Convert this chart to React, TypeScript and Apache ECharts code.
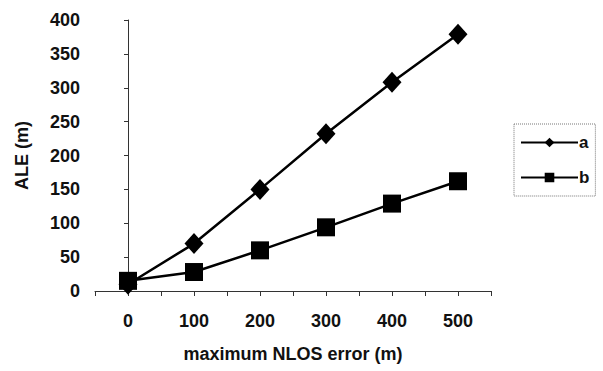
import React, { useEffect, useRef } from "react";
import * as echarts from "echarts";

const xValues = [0, 100, 200, 300, 400, 500];
const seriesA = [10, 70, 150, 232, 308, 379];
const seriesB = [15, 28, 60, 94, 129, 162];
const seriesNames = ["a", "b"];

export default function App() {
  const ref = useRef<HTMLDivElement>(null);
  useEffect(() => {
    if (!ref.current) return;
    const chart = echarts.init(ref.current, null, { renderer: "svg" });
    const font = "'Liberation Sans', Arial, sans-serif";
    chart.setOption({
      animation: false,
      backgroundColor: "#fff",
      grid: { left: 95, right: 112, top: 20, bottom: 80, containLabel: false },
      xAxis: {
        type: "value",
        min: -50,
        max: 550,
        interval: 50,
        name: "maximum NLOS error (m)",
        nameLocation: "middle",
        nameGap: 54,
        nameTextStyle: { fontFamily: font, fontWeight: "bold", fontSize: 18, color: "#111" },
        axisLine: { lineStyle: { color: "#333", width: 1 } },
        axisTick: { show: true, length: 5, inside: false, lineStyle: { color: "#333" } },
        splitLine: { show: false },
        axisLabel: {
          margin: 21,
          fontFamily: font,
          fontWeight: "bold",
          fontSize: 18,
          color: "#111",
          showMinLabel: true,
          showMaxLabel: true,
          formatter: (v: number) => (v >= 0 && v <= 500 && v % 100 === 0 ? String(v) : ""),
        },
      },
      yAxis: {
        type: "value",
        min: 0,
        max: 400,
        interval: 50,
        name: "ALE (m)",
        nameLocation: "middle",
        nameGap: 64,
        nameRotate: 90,
        nameTextStyle: { fontFamily: font, fontWeight: "bold", fontSize: 18, color: "#111" },
        axisLine: { show: true, lineStyle: { color: "#333", width: 1 } },
        axisTick: { show: true, length: 4, lineStyle: { color: "#333" } },
        splitLine: { show: false },
        axisLabel: { margin: 15, fontFamily: font, fontWeight: "bold", fontSize: 18, color: "#111" },
      },
      legend: {
        orient: "vertical",
        left: 514,
        top: 124,
        width: 86,
        padding: [10, 6, 10, 6],
        itemGap: 18,
        itemWidth: 57,
        itemHeight: 12,
        borderColor: "#777",
        borderWidth: 1,
        borderType: "dotted",
        textStyle: { fontFamily: font, fontWeight: "bold", fontSize: 17, color: "#111", padding: [0, 0, 0, -4] },
        data: seriesNames,
      },
      series: [
        {
          name: seriesNames[0],
          type: "line",
          data: xValues.map((x, i) => [x, seriesA[i]]),
          symbol: "diamond",
          symbolSize: [19, 21],
          itemStyle: { color: "#000" },
          lineStyle: { color: "#000", width: 2.5 },
        },
        {
          name: seriesNames[1],
          type: "line",
          data: xValues.map((x, i) => [x, seriesB[i]]),
          symbol: "rect",
          symbolSize: 18,
          itemStyle: { color: "#000" },
          lineStyle: { color: "#000", width: 2.5 },
        },
      ],
    });
    return () => chart.dispose();
  }, []);
  return <div ref={ref} style={{ width: 603, height: 371, position: "absolute", left: 0, top: 0 }} />;
}
